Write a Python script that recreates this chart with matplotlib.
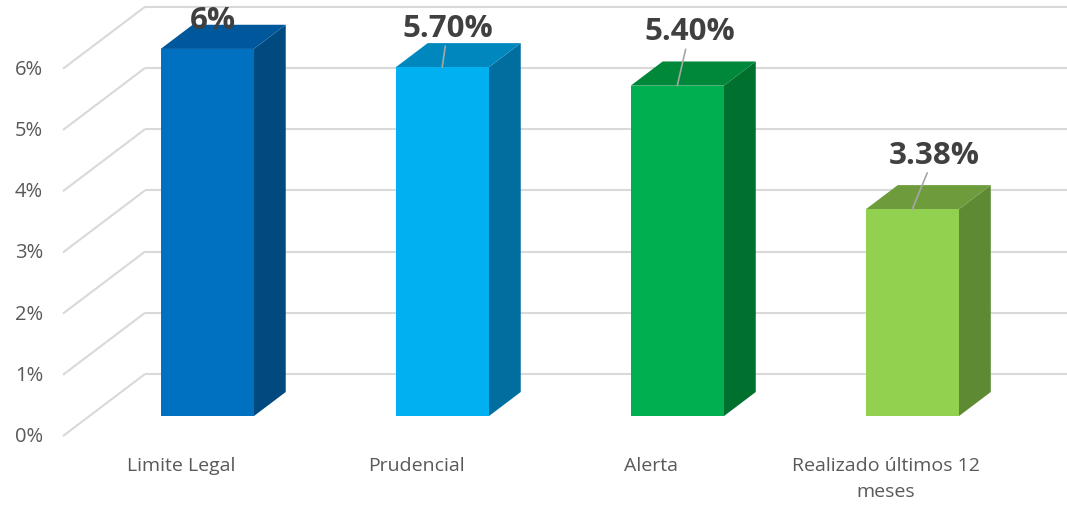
import matplotlib
matplotlib.use("Agg")
import matplotlib.pyplot as plt
from matplotlib.patches import Polygon

# Data
categories = ["Limite Legal", "Prudencial", "Alerta", "Realizado últimos 12\nmeses"]
values = [6.0, 5.70, 5.40, 3.38]
value_labels = ["6%", "5.70%", "5.40%", "3.38%"]
y_ticks = [0, 1, 2, 3, 4, 5, 6]

# Colours (front, side, top)
front_colors = ["#0070C0", "#00B0F0", "#00B050", "#92D050"]
side_colors = ["#004A80", "#006E9E", "#00702F", "#5E8A34"]
top_colors = ["#00589C", "#0088BE", "#00883A", "#6E9C3C"]

# label offsets in points from front-top centre, and whether a leader line is drawn
label_offsets = [(4, 21), (4, 28), (9, 39), (16, 39)]
leader = [False, True, True, True]

# 3D look: depth vector in data units (x in categories, y in %)
DX, DY = 0.349, 1.013
BAR_W = 0.396
D_FRONT, D_BACK = 0.32, 0.71
X_LEFT = -0.502
GRID = "#D9D9D9"
TEXT = "#595959"

plt.rcParams["font.family"] = ["Open Sans", "DejaVu Sans"]

fig = plt.figure(figsize=(10.67, 5.06), dpi=100)
ax = fig.add_axes([0, 0, 1, 1])
ax.set_xlim(-0.77, 3.77)
ax.set_ylim(-1.127, 7.14)
ax.axis("off")

# gridlines: diagonal on the side wall, horizontal on the back wall
for t in y_ticks:
    ax.plot([X_LEFT, X_LEFT + DX], [t, t + DY], color=GRID, lw=1.5, zorder=1,
            solid_capstyle="butt")
    ax.plot([X_LEFT + DX, 3.77], [t + DY, t + DY], color=GRID, lw=1.5, zorder=1,
            solid_capstyle="butt")
    ax.text(X_LEFT - 0.085, t, f"{t}%", ha="right", va="center",
            fontsize=14.5, color=TEXT)

# bars
for i, v in enumerate(values):
    x0 = i - BAR_W / 2 + D_FRONT * DX
    x1 = x0 + BAR_W
    y0 = D_FRONT * DY
    y1 = y0 + v
    ddx = (D_BACK - D_FRONT) * DX
    ddy = (D_BACK - D_FRONT) * DY
    front = Polygon([(x0, y0), (x1, y0), (x1, y1), (x0, y1)], closed=True,
                    facecolor=front_colors[i], edgecolor="none", zorder=3)
    side = Polygon([(x1, y0), (x1 + ddx, y0 + ddy), (x1 + ddx, y1 + ddy), (x1, y1)],
                   closed=True, facecolor=side_colors[i], edgecolor="none", zorder=2)
    top = Polygon([(x0, y1), (x1, y1), (x1 + ddx, y1 + ddy), (x0 + ddx, y1 + ddy)],
                  closed=True, facecolor=top_colors[i], edgecolor="none", zorder=2)
    for p in (side, top, front):
        ax.add_patch(p)

    xc = (x0 + x1) / 2
    arrow = dict(arrowstyle="-", color="#A6A6A6", lw=1.2, shrinkA=0, shrinkB=0) if leader[i] else None
    ax.annotate(value_labels[i], xy=(xc, y1), xytext=label_offsets[i],
                textcoords="offset points", ha="center", va="center",
                fontsize=22.5, fontweight="bold", color="#404040",
                arrowprops=arrow, zorder=5)

    ax.text(i, -0.33, categories[i], ha="center", va="top", fontsize=14,
            color=TEXT, linespacing=1.55)

fig.savefig("out.png", dpi=100)
